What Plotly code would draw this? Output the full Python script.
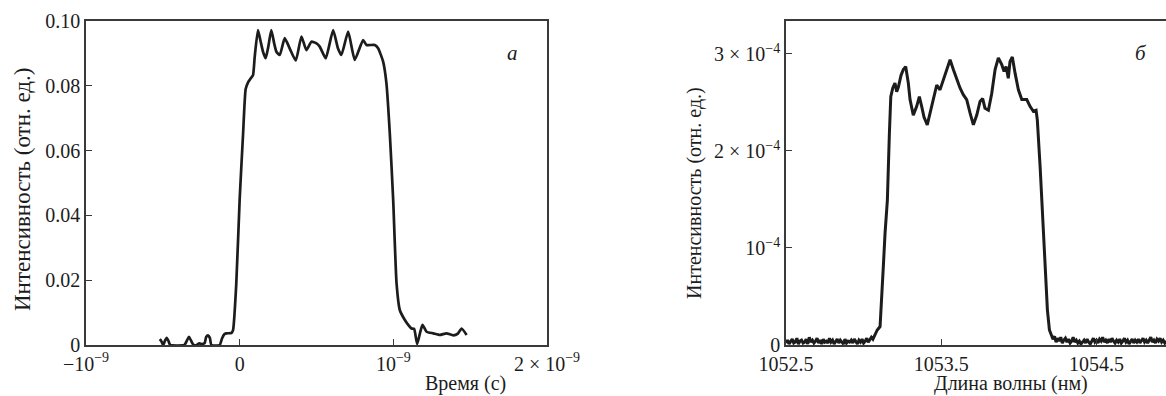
import numpy as np
import plotly.graph_objects as go

# ---------------- Panel a: time profile ----------------
time_ns = [-0.52, -0.51, -0.498, -0.487, -0.475, -0.463, -0.452, -0.36, -0.342, -0.33, -0.318, -0.30,
           -0.28, -0.262, -0.245, -0.228, -0.218, -0.206, -0.194, -0.184, -0.13, -0.115, -0.10,
           -0.087, -0.054, -0.043, -0.022, 0.0, 0.022, 0.039,
           0.054, 0.075, 0.087, 0.098, 0.119, 0.135, 0.152, 0.169, 0.186, 0.206, 0.225, 0.239,
           0.261, 0.293, 0.326, 0.365, 0.402, 0.434, 0.467, 0.5, 0.521, 0.56, 0.608, 0.64,
           0.662, 0.706, 0.749, 0.803, 0.825, 0.879, 0.901, 0.934, 0.955, 0.977, 0.999, 1.021,
           1.042, 1.075, 1.097, 1.118, 1.135, 1.155, 1.175, 1.19, 1.216, 1.26, 1.303, 1.346, 1.39,
           1.42, 1.444, 1.477]
intensity_a = [0.0018, 0.0012, 0.0, 0.0012, 0.0022, 0.0012, 0.0, 0.0, 0.0015, 0.0025, 0.0015, 0.0,
               0.0, 0.0005, 0.0003, 0.0006, 0.0025, 0.003, 0.0022, 0.0, 0.0, 0.002, 0.0033,
               0.0036, 0.0037, 0.0046, 0.019, 0.045, 0.065, 0.079,
               0.081, 0.0825, 0.0833, 0.089, 0.0972, 0.094, 0.0905, 0.0885, 0.092, 0.0972, 0.093, 0.0905,
               0.0895, 0.0947, 0.0915, 0.0878, 0.0952, 0.091, 0.0936, 0.0931, 0.0921, 0.0885, 0.0972, 0.0915,
               0.0895, 0.0967, 0.088, 0.0941, 0.0926, 0.0926, 0.0916, 0.0874, 0.0808, 0.0653, 0.0448, 0.019,
               0.0108, 0.0077, 0.0062, 0.0051, 0.005, 0.0003, 0.004, 0.0062, 0.0041, 0.0036, 0.0031, 0.0036,
               0.003, 0.0035, 0.0051, 0.0031]

xa_tickvals = [-1e-9, 0, 1e-9, 2e-9]
xa_ticktext = ["\u221210<sup>\u22129</sup>", "0", "10<sup>\u22129</sup>", "2 \u00d7 10<sup>\u22129</sup>"]
ya_tickvals = [0, 0.02, 0.04, 0.06, 0.08, 0.10]
ya_ticktext = ["0", "0.02", "0.04", "0.06", "0.08", "0.10"]

# ---------------- Panel b: spectrum (units of 1e-4) ----------------
base_left_nm = [1052.50, 1052.51, 1052.52, 1052.53, 1052.54, 1052.55, 1052.56, 1052.57, 1052.58,
                1052.59, 1052.60, 1052.61, 1052.62, 1052.63, 1052.64, 1052.65, 1052.66, 1052.67,
                1052.68, 1052.69, 1052.70, 1052.71, 1052.72, 1052.73, 1052.74, 1052.75, 1052.76,
                1052.77, 1052.78, 1052.79, 1052.80, 1052.81, 1052.82, 1052.83, 1052.84, 1052.85,
                1052.86, 1052.87, 1052.88, 1052.89, 1052.90, 1052.91, 1052.92, 1052.93, 1052.94,
                1052.95, 1052.96, 1052.97, 1052.98, 1052.99, 1053.00, 1053.01, 1053.02, 1053.03,
                1053.04, 1053.05, 1053.06, 1053.07, 1053.078]
base_left_val = [0.02, 0.05, 0.01, 0.04, 0.06, 0.02, 0.03, 0.07, 0.01, 0.04, 0.05, 0.02, 0.03,
                 0.06, 0.01, 0.08, 0.03, 0.05, 0.02, 0.04, 0.07, 0.02, 0.05, 0.01, 0.06, 0.03,
                 0.04, 0.02, 0.07, 0.03, 0.05, 0.01, 0.04, 0.06, 0.02, 0.05, 0.03, 0.01, 0.06,
                 0.02, 0.04, 0.03, 0.05, 0.02, 0.06, 0.03, 0.01, 0.05, 0.03, 0.06, 0.02, 0.04,
                 0.07, 0.03, 0.05, 0.08, 0.06, 0.10, 0.12]
pulse_nm = [1053.088, 1053.106, 1053.117, 1053.127, 1053.138, 1053.153, 1053.166, 1053.175, 1053.188,
            1053.202, 1053.213, 1053.224, 1053.241, 1053.256, 1053.271, 1053.288, 1053.299, 1053.320,
            1053.342, 1053.359, 1053.374, 1053.389, 1053.410, 1053.432, 1053.449, 1053.471, 1053.492,
            1053.514, 1053.535, 1053.557, 1053.578, 1053.600, 1053.621, 1053.642, 1053.664, 1053.686,
            1053.707, 1053.729, 1053.750, 1053.767, 1053.782, 1053.804, 1053.825, 1053.847, 1053.868,
            1053.890, 1053.905, 1053.918, 1053.932, 1053.943, 1053.958, 1053.976, 1053.997, 1054.019,
            1054.051, 1054.072, 1054.093, 1054.111, 1054.119, 1054.137, 1054.148, 1054.169, 1054.184,
            1054.197, 1054.212]
pulse_val = [0.155, 0.19, 0.46, 0.81, 1.15, 1.49, 2.18, 2.56, 2.65,
             2.70, 2.61, 2.66, 2.78, 2.84, 2.87, 2.70, 2.53, 2.37,
             2.46, 2.56, 2.46, 2.35, 2.27, 2.42, 2.53, 2.68, 2.63,
             2.73, 2.84, 2.94, 2.84, 2.73, 2.65, 2.58, 2.53, 2.39,
             2.27, 2.37, 2.51, 2.54, 2.44, 2.42, 2.59, 2.84, 2.96,
             2.89, 2.82, 2.87, 2.75, 2.92, 2.97, 2.80, 2.63, 2.53,
             2.53, 2.46, 2.41, 2.42, 2.32, 1.84, 1.49, 0.81, 0.36,
             0.155, 0.09]
base_right_nm = [1054.22, 1054.23, 1054.24, 1054.25, 1054.26, 1054.27, 1054.28, 1054.29, 1054.30,
                 1054.31, 1054.32, 1054.33, 1054.34, 1054.35, 1054.36, 1054.37, 1054.38, 1054.39,
                 1054.40, 1054.41, 1054.42, 1054.43, 1054.44, 1054.45, 1054.46, 1054.47, 1054.48,
                 1054.49, 1054.50, 1054.51, 1054.52, 1054.53, 1054.54, 1054.55, 1054.56, 1054.57,
                 1054.58, 1054.59, 1054.60, 1054.61, 1054.62, 1054.63, 1054.64, 1054.65, 1054.66,
                 1054.67, 1054.68, 1054.69, 1054.70, 1054.71, 1054.72, 1054.73, 1054.74, 1054.75,
                 1054.76, 1054.77, 1054.78, 1054.79, 1054.80, 1054.81, 1054.82, 1054.83, 1054.84,
                 1054.85, 1054.86, 1054.87, 1054.88, 1054.89, 1054.90, 1054.91, 1054.92, 1054.93,
                 1054.94, 1054.95]
base_right_val = [0.06, 0.09, 0.03, 0.07, 0.04, 0.08, 0.02, 0.05, 0.07, 0.03, 0.06, 0.02, 0.04,
                  0.08, 0.03, 0.05, 0.02, 0.04, 0.01, 0.03, 0.05, 0.02, 0.06, 0.03, 0.01, 0.04,
                  0.07, 0.03, 0.05, 0.02, 0.06, 0.04, 0.08, 0.03, 0.05, 0.02, 0.06, 0.03, 0.07,
                  0.04, 0.02, 0.05, 0.03, 0.06, 0.02, 0.04, 0.07, 0.03, 0.05, 0.01, 0.04, 0.06,
                  0.02, 0.05, 0.03, 0.06, 0.02, 0.04, 0.07, 0.03, 0.05, 0.02, 0.06, 0.08, 0.03,
                  0.05, 0.02, 0.06, 0.04, 0.07, 0.03, 0.05, 0.02, 0.04]

xb_tickvals = [1052.5, 1053.5, 1054.5]
xb_ticktext = ["1052.5", "1053.5", "1054.5"]
yb_tickvals = [0, 1e-4, 2e-4, 3e-4]
yb_ticktext = ["0", "10<sup>\u22124</sup>", "2 \u00d7 10<sup>\u22124</sup>", "3 \u00d7 10<sup>\u22124</sup>"]

FONT = "'Liberation Serif', 'Times New Roman', Times, 'DejaVu Serif', serif"
INK = "#1c1c1c"
AX = "#3a3a3a"

fig = go.Figure()
fig.add_trace(go.Scatter(x=np.array(time_ns) * 1e-9, y=intensity_a, mode="lines",
                         line=dict(color=INK, width=2.7, shape="spline", smoothing=0.5),
                         xaxis="x", yaxis="y", showlegend=False))
spec_x = base_left_nm + pulse_nm + base_right_nm
spec_y = np.array(base_left_val + pulse_val + base_right_val) * 1e-4
fig.add_trace(go.Scatter(x=spec_x, y=spec_y, mode="lines",
                         line=dict(color=INK, width=3.0),
                         xaxis="x2", yaxis="y2", showlegend=False))

W, H = 1166, 396
def px(x): return x / W
def py(y): return 1 - y / H

axis_common = dict(showgrid=False, zeroline=False, showline=True, linecolor=AX, linewidth=1.6,
                   ticks="inside", ticklen=6, tickwidth=1.2, tickcolor=AX, automargin=False,
                   tickfont=dict(family=FONT, size=20, color=INK))

fig.update_layout(
    template="none",
    width=W, height=H, margin=dict(l=0, r=0, t=0, b=0, pad=0),
    paper_bgcolor="white", plot_bgcolor="white",
    font=dict(family=FONT, size=20, color=INK),
    xaxis=dict(domain=[px(86), px(547)], range=[-1e-9, 2e-9], tickvals=xa_tickvals,
               ticktext=xa_ticktext, mirror=True, anchor="y", **axis_common),
    yaxis=dict(domain=[py(345), py(21)], range=[0, 0.1], tickvals=ya_tickvals,
               ticktext=ya_ticktext, mirror=True, anchor="x", **axis_common),
    xaxis2=dict(domain=[px(786), 1.0], range=[1052.5, 1054.948], tickvals=xb_tickvals,
                ticktext=xb_ticktext, mirror=True, anchor="y2", **axis_common),
    yaxis2=dict(domain=[py(345), py(21)], range=[0, 3.34e-4], tickvals=yb_tickvals,
                ticktext=yb_ticktext, mirror=False, anchor="x2", **axis_common),
)

ann_font = dict(family=FONT, size=20, color=INK)
fig.add_annotation(text="Интенсивность (отн. ед.)", x=px(22), y=py(190), xref="paper", yref="paper",
                   textangle=-90, showarrow=False, font=dict(family=FONT, size=23, color=INK),
                   xanchor="center", yanchor="middle")
fig.add_annotation(text="Интенсивность (отн. ед.)", x=px(694), y=py(193), xref="paper", yref="paper",
                   textangle=-90, showarrow=False, font=dict(family=FONT, size=20, color=INK),
                   xanchor="center", yanchor="middle")
fig.add_annotation(text="Время (с)", x=px(465), y=py(383), xref="paper", yref="paper",
                   showarrow=False, font=ann_font, xanchor="center", yanchor="middle")
fig.add_annotation(text="Длина волны (нм)", x=px(1011), y=py(383), xref="paper", yref="paper",
                   showarrow=False, font=ann_font, xanchor="center", yanchor="middle")
fig.add_annotation(text="<i>а</i>", x=px(512), y=py(53), xref="paper", yref="paper",
                   showarrow=False, font=dict(family=FONT, size=21, color=INK),
                   xanchor="center", yanchor="middle")
fig.add_annotation(text="<i>б</i>", x=px(1141), y=py(53), xref="paper", yref="paper",
                   showarrow=False, font=dict(family=FONT, size=21, color=INK),
                   xanchor="center", yanchor="middle")

fig.write_html("out.html")
